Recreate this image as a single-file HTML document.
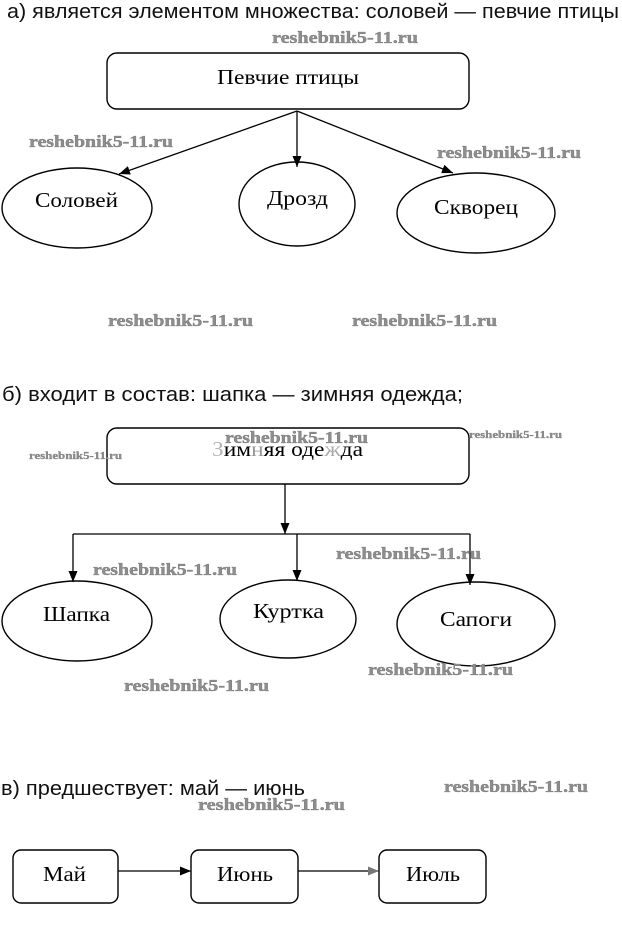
<!DOCTYPE html>
<html>
<head>
<meta charset="utf-8">
<style>
  html, body { margin: 0; padding: 0; background: #fff; }
  body { width: 622px; height: 937px; overflow: hidden; }
  svg { display: block; }
  .title { font-family: "Liberation Sans", "DejaVu Sans", sans-serif; font-size: 20px; fill: #111; }
  .lbl { font-family: "Liberation Serif", "DejaVu Serif", serif; font-size: 21px; fill: #000; }
  .wm { font-family: "Liberation Serif", "DejaVu Serif", serif; font-weight: bold; font-size: 17px; fill: #8e8e8e; stroke: #6c6c6c; stroke-width: 0.35; }
  .wms { font-family: "Liberation Serif", "DejaVu Serif", serif; font-weight: bold; font-size: 11px; fill: #8e8e8e; stroke: #6c6c6c; stroke-width: 0.25; }
  .shape { fill: none; stroke: #000; stroke-width: 1.4; }
  .line { fill: none; stroke: #000; stroke-width: 1.3; }
</style>
</head>
<body>
<svg width="622" height="937" viewBox="0 0 622 937" xmlns="http://www.w3.org/2000/svg">
  <defs>
    <marker id="ah" markerUnits="userSpaceOnUse" markerWidth="12" markerHeight="10" refX="11" refY="4.5" orient="auto">
      <path d="M0,0 L11,4.5 L0,9 z" fill="#000"/>
    </marker>
    <marker id="ahg" markerUnits="userSpaceOnUse" markerWidth="12" markerHeight="10" refX="11" refY="4.5" orient="auto">
      <path d="M0,0 L11,4.5 L0,9 z" fill="#777"/>
    </marker>
  </defs>

  <!-- ===== Section a ===== -->
  <text class="title" x="7" y="18" textLength="612" lengthAdjust="spacingAndGlyphs">а) является элементом множества: соловей — певчие птицы</text>

  <rect class="shape" x="107" y="53" width="362" height="56" rx="10" ry="10"/>
  <text class="lbl" x="217" y="84" textLength="142" lengthAdjust="spacingAndGlyphs">Певчие птицы</text>

  <line class="line" x1="297" y1="111" x2="119" y2="174" marker-end="url(#ah)"/>
  <line class="line" x1="297" y1="111" x2="297" y2="167" marker-end="url(#ah)"/>
  <line class="line" x1="297" y1="111" x2="453" y2="173" marker-end="url(#ah)"/>

  <ellipse class="shape" cx="77" cy="208" rx="75" ry="40"/>
  <text class="lbl" x="35" y="207" textLength="83" lengthAdjust="spacingAndGlyphs">Соловей</text>

  <ellipse class="shape" cx="297" cy="204" rx="58" ry="42"/>
  <text class="lbl" x="267" y="205" textLength="61" lengthAdjust="spacingAndGlyphs">Дрозд</text>

  <ellipse class="shape" cx="476" cy="213" rx="79" ry="40"/>
  <text class="lbl" x="434" y="214" textLength="84" lengthAdjust="spacingAndGlyphs">Скворец</text>

  <text class="wm" x="272" y="43" textLength="146" lengthAdjust="spacingAndGlyphs">reshebnik5-11.ru</text>
  <text class="wm" x="29" y="147" textLength="144" lengthAdjust="spacingAndGlyphs">reshebnik5-11.ru</text>
  <text class="wm" x="437" y="158" textLength="144" lengthAdjust="spacingAndGlyphs">reshebnik5-11.ru</text>
  <text class="wm" x="108" y="326" textLength="145" lengthAdjust="spacingAndGlyphs">reshebnik5-11.ru</text>
  <text class="wm" x="352" y="326" textLength="145" lengthAdjust="spacingAndGlyphs">reshebnik5-11.ru</text>

  <!-- ===== Section b ===== -->
  <text class="title" x="2" y="401" textLength="461" lengthAdjust="spacingAndGlyphs">б) входит в состав: шапка — зимняя одежда;</text>

  <rect class="shape" x="107" y="428" width="362" height="56" rx="10" ry="10"/>
  <text class="lbl" x="212" y="456" textLength="151" lengthAdjust="spacingAndGlyphs"><tspan fill="#b5b5b5">З</tspan>им<tspan fill="#999">н</tspan>яя оде<tspan fill="#aaa">ж</tspan>да</text>

  <line class="line" x1="285" y1="484" x2="285" y2="534" marker-end="url(#ah)"/>
  <line class="line" x1="73" y1="534" x2="470" y2="534"/>
  <line class="line" x1="73" y1="534" x2="73" y2="582" marker-end="url(#ah)"/>
  <line class="line" x1="297" y1="534" x2="297" y2="581" marker-end="url(#ah)"/>
  <line class="line" x1="470" y1="534" x2="470" y2="585" marker-end="url(#ah)"/>

  <ellipse class="shape" cx="77" cy="621" rx="75" ry="40"/>
  <text class="lbl" x="43" y="621" textLength="67" lengthAdjust="spacingAndGlyphs">Шапка</text>

  <ellipse class="shape" cx="288" cy="619" rx="68" ry="39"/>
  <text class="lbl" x="253" y="618" textLength="71" lengthAdjust="spacingAndGlyphs">Куртка</text>

  <ellipse class="shape" cx="476" cy="624" rx="79" ry="42"/>
  <text class="lbl" x="440" y="626" textLength="72" lengthAdjust="spacingAndGlyphs">Сапоги</text>

  <text class="wm" x="225" y="443" textLength="143" lengthAdjust="spacingAndGlyphs">reshebnik5-11.ru</text>
  <text class="wms" x="29" y="459" textLength="93" lengthAdjust="spacingAndGlyphs">reshebnik5-11.ru</text>
  <text class="wms" x="469" y="438" textLength="93" lengthAdjust="spacingAndGlyphs">reshebnik5-11.ru</text>
  <text class="wm" x="93" y="575" textLength="144" lengthAdjust="spacingAndGlyphs">reshebnik5-11.ru</text>
  <text class="wm" x="336" y="559" textLength="145" lengthAdjust="spacingAndGlyphs">reshebnik5-11.ru</text>
  <text class="wm" x="368" y="675" textLength="145" lengthAdjust="spacingAndGlyphs">reshebnik5-11.ru</text>
  <text class="wm" x="124" y="691" textLength="145" lengthAdjust="spacingAndGlyphs">reshebnik5-11.ru</text>

  <!-- ===== Section c ===== -->
  <text class="title" x="1" y="795" textLength="304" lengthAdjust="spacingAndGlyphs">в) предшествует: май — июнь</text>

  <rect class="shape" x="13" y="850" width="105" height="53" rx="8" ry="8"/>
  <text class="lbl" x="43" y="881" textLength="43" lengthAdjust="spacingAndGlyphs">Май</text>

  <rect class="shape" x="191" y="850" width="107" height="53" rx="8" ry="8"/>
  <text class="lbl" x="217" y="881" textLength="56" lengthAdjust="spacingAndGlyphs">Июнь</text>

  <rect class="shape" x="379" y="850" width="107" height="53" rx="8" ry="8"/>
  <text class="lbl" x="406" y="881" textLength="54" lengthAdjust="spacingAndGlyphs">Июль</text>

  <line class="line" x1="118" y1="871" x2="191" y2="871" marker-end="url(#ah)"/>
  <line class="line" x1="298" y1="871" x2="379" y2="871" marker-end="url(#ahg)"/>

  <text class="wm" x="198" y="810" textLength="147" lengthAdjust="spacingAndGlyphs">reshebnik5-11.ru</text>
  <text class="wm" x="444" y="792" textLength="144" lengthAdjust="spacingAndGlyphs">reshebnik5-11.ru</text>
</svg>
</body>
</html>
